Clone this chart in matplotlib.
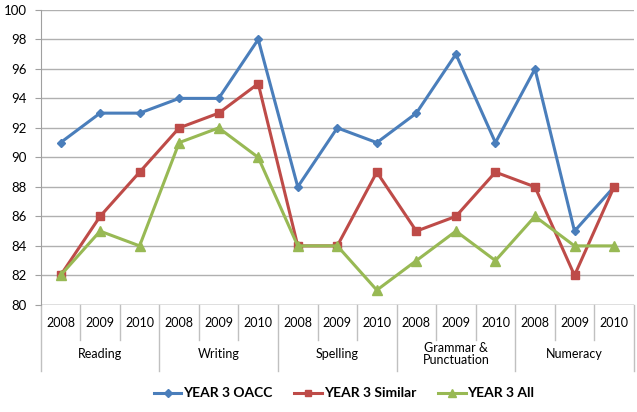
import matplotlib.pyplot as plt
from matplotlib.transforms import blended_transform_factory

plt.rcParams['font.family'] = ['Lato', 'DejaVu Sans']

subjects = ["Reading", "Writing", "Spelling", "Grammar &\nPunctuation", "Numeracy"]
years = ["2008", "2009", "2010"]

oacc = [91, 93, 93, 94, 94, 98, 88, 92, 91, 93, 97, 91, 96, 85, 88]
similar = [82, 86, 89, 92, 93, 95, 84, 84, 89, 85, 86, 89, 88, 82, 88]
all_schools = [82, 85, 84, 91, 92, 90, 84, 84, 81, 83, 85, 83, 86, 84, 84]

fig = plt.figure(figsize=(6.37, 4.12), dpi=100)
ax = fig.add_axes([0.064, 0.26, 0.931, 0.716])

x = [i + 0.5 for i in range(len(oacc))]
ax.plot(x, oacc, color="#4a7ebb", lw=2.2, marker="D", ms=4.5, label="YEAR 3 OACC")
ax.plot(x, similar, color="#be4b48", lw=2.2, marker="s", ms=6, label="YEAR 3 Similar")
ax.plot(x, all_schools, color="#98b954", lw=2.2, marker="^", ms=6.5, label="YEAR 3 All")

ax.set_xlim(0, 15)
ax.set_ylim(80, 100)
ax.set_yticks(range(80, 101, 2))
ax.yaxis.grid(True, color="#b0b0b0", lw=1)
ax.set_axisbelow(True)
for s in ["top", "right", "bottom"]:
    ax.spines[s].set_visible(False)
ax.spines["left"].set_color("#a0a0a0")
ax.tick_params(axis="y", length=4, color="#a0a0a0", labelsize=9.5, pad=6)
ax.set_xticks([])
ax.axhline(80, color="#a0a0a0", lw=1)

# two-level category axis
tr = blended_transform_factory(ax.transData, ax.transAxes)
for i in range(16):
    low = -0.225 if i % 3 == 0 else -0.12
    ax.plot([i, i], [0, low], color="#c0c0c0", lw=1, transform=tr, clip_on=False)
for i in range(15):
    ax.text(i + 0.5, -0.06, years[i % 3], transform=tr, ha="center", va="center", fontsize=9)
for k, name in enumerate(subjects):
    ax.text(3 * k + 1.5, -0.165, name, transform=tr, ha="center", va="center",
            fontsize=9, linespacing=1.0)

leg = fig.legend(loc="center", bbox_to_anchor=(0.54, 0.045), ncol=3, frameon=False,
                 prop={"weight": "bold", "size": 10}, handlelength=2.0, columnspacing=1.6,
                 handletextpad=0.1, markerscale=0.8)

fig.savefig("out.png", dpi=100)
